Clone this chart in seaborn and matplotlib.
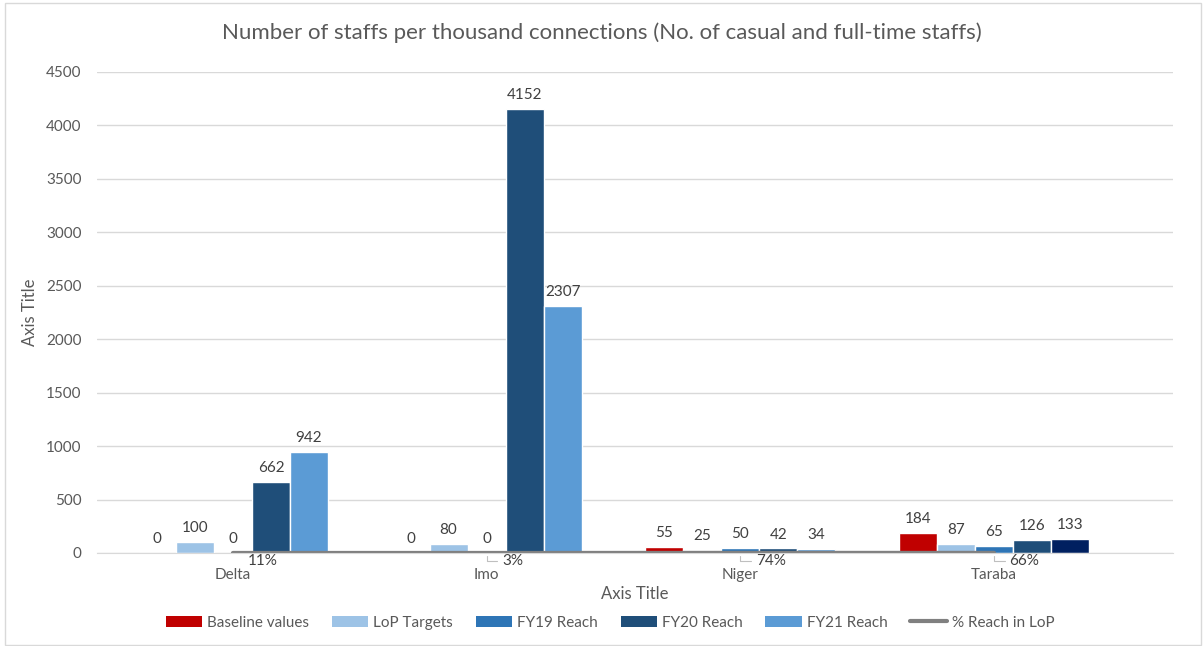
import numpy as np
import pandas as pd
import matplotlib.pyplot as plt
import seaborn as sns
from matplotlib.patches import Patch, Rectangle
from matplotlib.lines import Line2D

# data
states = ["Delta", "Imo", "Niger", "Taraba"]
series = ["Baseline values", "LoP Targets", "FY19 Reach", "FY20 Reach", "FY21 Reach"]
baseline = [0, 0, 55, 184]
lop_targets = [100, 80, 25, 87]
fy19 = [0, 0, 50, 65]
fy20 = [662, 4152, 42, 126]
fy21 = [942, 2307, 34, 133]
pct_reach = [0.11, 0.03, 0.74, 0.66]
pct_labels = ["11%", "3%", "74%", "66%"]

colors = ["#C00000", "#9DC3E6", "#2E75B6", "#1F4E79", "#5B9BD5"]
taraba_fy21_color = "#002060"

df = pd.DataFrame({
    "state": states * 5,
    "series": np.repeat(series, 4),
    "value": baseline + lop_targets + fy19 + fy20 + fy21,
})

sns.set_style("white")
plt.rcParams["font.family"] = ["Lato", "DejaVu Sans"]

fig = plt.figure(figsize=(12.03, 6.46), dpi=100)
ax = fig.add_axes([0.0806, 0.144, 0.8944, 0.745])

sns.barplot(data=df, x="state", y="value", hue="series", order=states,
            hue_order=series, palette=colors, width=0.75, saturation=1,
            legend=False, ax=ax)

# last bar in Taraba is drawn in a darker navy in the original
ax.containers[4][3].set_facecolor(taraba_fy21_color)

for cont in ax.containers:
    ax.bar_label(cont, fmt="%d", padding=5, fontsize=11, color="#404040")

# % Reach in LoP line on the same axis
sns.lineplot(x=states, y=pct_reach, color="#808080", linewidth=3, ax=ax, sort=False)

leader = [False, True, True, True]
for i, (v, lab) in enumerate(zip(pct_reach, pct_labels)):
    arrow = dict(arrowstyle="-", color="#BFBFBF", lw=0.8, shrinkA=1, shrinkB=2,
                 connectionstyle="angle,angleA=0,angleB=90,rad=0") if leader[i] else None
    ax.annotate(lab, xy=(i, v), xytext=(11, -6), textcoords="offset points",
                ha="left", va="center", fontsize=11, color="#404040",
                arrowprops=arrow)

ax.set_xlim(-0.536, 3.705)
ax.set_ylim(0, 4500)
ax.set_yticks(np.arange(0, 4501, 500))
ax.yaxis.grid(True, color="#D9D9D9", linewidth=1)
ax.set_axisbelow(True)
for s in ["left", "right", "top"]:
    ax.spines[s].set_visible(False)
ax.spines["bottom"].set_color("#D9D9D9")
ax.tick_params(axis="both", length=0, labelsize=11, labelcolor="#595959")
ax.tick_params(axis="x", pad=11)
ax.tick_params(axis="y", pad=11)

ax.set_xlabel("Axis Title", fontsize=12, color="#595959", labelpad=3)
ax.set_ylabel("Axis Title", fontsize=12, color="#595959", labelpad=6)

fig.suptitle("Number of staffs per thousand connections (No. of casual and full-time staffs)",
             y=0.965, fontsize=16, color="#595959")

handles = [Patch(facecolor=c, edgecolor="none") for c in colors]
handles.append(Line2D([0], [0], color="#808080", linewidth=3))
labels = series + ["% Reach in LoP"]
fig.legend(handles, labels, loc="center", bbox_to_anchor=(0.507, 0.036), ncol=6,
           frameon=False, fontsize=11, labelcolor="#595959", handlelength=2.4,
           handleheight=0.8, handletextpad=0.3, columnspacing=1.5)

# chart area border
fig.patches.append(Rectangle((0.004, 0.002), 0.994, 0.993, transform=fig.transFigure,
                             fill=False, edgecolor="#D9D9D9", linewidth=1))

fig.savefig("out.png", dpi=100)
